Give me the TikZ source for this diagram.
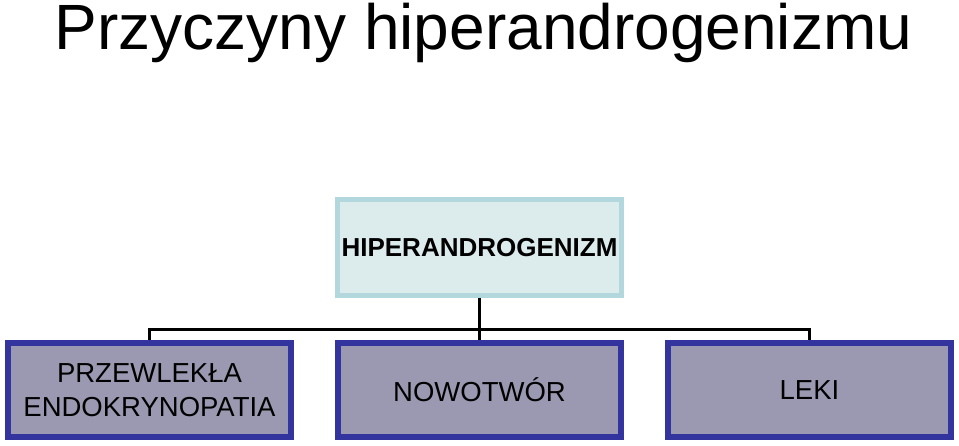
\documentclass[tikz,border=0pt]{standalone}
\usepackage{fontspec}
\setmainfont{Liberation Sans}
\definecolor{topfill}{RGB}{220,235,236}
\definecolor{topdraw}{RGB}{178,216,221}
\definecolor{botfill}{RGB}{154,153,177}
\definecolor{botdraw}{RGB}{52,52,158}
\tikzset{
  topbox/.style={draw=topdraw, fill=topfill, line width=5pt, minimum width=284pt, minimum height=96pt, inner sep=0pt, font=\fontsize{26}{30}\selectfont\bfseries},
  botbox/.style={draw=botdraw, fill=botfill, line width=6pt, minimum width=283pt, minimum height=94pt, inner sep=0pt, align=center, font=\fontsize{27.5}{34}\selectfont},
  conn/.style={line width=3.5pt, black}
}
\begin{document}
\begin{tikzpicture}[x=1pt,y=-1pt]
\useasboundingbox (0,0) rectangle (959,446);
\node[anchor=base, font=\fontsize{64}{70}\selectfont, inner sep=0pt, text height=44pt] (title) at (483.5,50) {Przyczyny hiperandrogenizmu};
\node[topbox] (hip) at (479.5,247.5) {HIPERANDROGENIZM};
\node[botbox] (prz) at (149.5,390) {PRZEWLEKŁA\\ENDOKRYNOPATIA};
\node[botbox] (now) at (479.5,390) {NOWOTWÓR};
\node[botbox] (lek) at (809.5,390) {LEKI};
\coordinate (mid) at (479.5,329.5);
\draw[conn] (hip.south) -- (mid);
\draw[conn] (mid) -| (prz.north);
\draw[conn] (mid) -| (lek.north);
\draw[conn] (mid) -- (now.north);
\end{tikzpicture}
\end{document}
